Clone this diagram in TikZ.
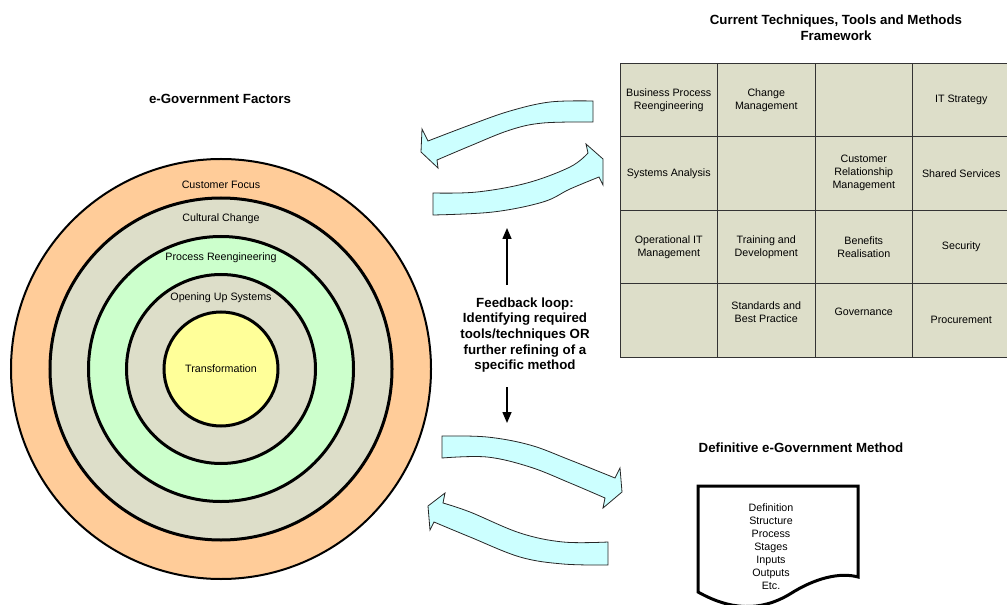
\documentclass[tikz,border=0pt]{standalone}
\usepackage{fontspec}
\setmainfont{Liberation Sans}
\usetikzlibrary{arrows.meta}
\definecolor{orangeF}{HTML}{FFCC99}
\definecolor{beigeF}{HTML}{DDDEC9}
\definecolor{greenF}{HTML}{CCFFCC}
\definecolor{yellowF}{HTML}{FFFF99}
\definecolor{cyanF}{HTML}{CCFFFF}
\tikzset{
  ring/.style={circle, draw=black, inner sep=0pt, line width=3bp},
  bodytxt/.style={font=\fontsize{10.7bp}{13bp}\selectfont, align=center, inner sep=0pt},
  titletxt/.style={font=\fontsize{13.3bp}{16bp}\selectfont\bfseries, align=center, inner sep=0pt},
  fbtxt/.style={font=\fontsize{13.3bp}{15.7bp}\selectfont\bfseries, align=center, inner sep=0pt},
  cell/.style={draw=black!80, fill=beigeF, line width=0.8bp, minimum width=97.5bp,
    minimum height=73.5bp, inner sep=0pt, font=\fontsize{10.7bp}{13bp}\selectfont, align=center},
  blockarrow/.style={fill=cyanF, draw=black!85, line width=0.8bp, line join=miter},
  docshape/.style={fill=white, draw=black, line width=3bp, line join=miter},
  fbarrow/.style={-{Triangle[length=11bp,width=9bp]}, line width=1.5bp}
}
\begin{document}
\begin{tikzpicture}[x=1bp,y=-1bp]
\useasboundingbox (0,0) rectangle (1007,605);

% ---- concentric circles ----
\node[ring, line width=2bp, fill=orangeF, minimum size=420bp] (c1) at (221,369) {};
\node[ring, fill=beigeF, minimum size=342bp] (c2) at (221,369) {};
\node[ring, fill=greenF, minimum size=265bp] (c3) at (221,369) {};
\node[ring, fill=beigeF, minimum size=189bp] (c4) at (221,369) {};
\node[ring, fill=yellowF, minimum size=114bp] (c5) at (221,369) {};
\node[bodytxt] (l1) at (221,184.5) {Customer Focus};
\node[bodytxt] (l2) at (221,218.5) {Cultural Change};
\node[bodytxt] (l3) at (221,257.5) {Process Reengineering};
\node[bodytxt] (l4) at (221,297.5) {Opening Up Systems};
\node[bodytxt] (l5) at (221,368.5) {Transformation};

% ---- titles ----
\node[titletxt] (t1) at (220,98.5) {e-Government Factors};
\node[titletxt] (t2) at (836,27.5) {Current Techniques, Tools and Methods\\Framework};
\node[titletxt] (t3) at (801,447.5) {Definitive e-Government Method};

% ---- grid ----
\node[cell] (g11) at (668.75,99.75) {Business Process\\Reengineering};
\node[cell] (g12) at (766.25,99.75) {Change\\Management};
\node[cell] (g13) at (863.75,99.75) {};
\node[cell] (g14) at (961.25,99.75) {IT Strategy};
\node[cell] (g21) at (668.75,173.25) {Systems Analysis};
\node[cell] (g22) at (766.25,173.25) {};
\node[cell] (g23) at (863.75,173.25) {Customer\\Relationship\\Management};
\node[cell] (g24) at (961.25,173.25) {Shared Services};
\node[cell] (g31) at (668.75,246.75) {Operational IT\\Management};
\node[cell] (g32) at (766.25,246.75) {Training and\\Development};
\node[cell] (g33) at (863.75,246.75) {Benefits\\Realisation};
\node[cell] (g34) at (961.25,246.75) {Security};
\node[cell] (g41) at (668.75,320.25) {};
\node[cell] (g42) at (766.25,320.25) {};
\node[cell] (g43) at (863.75,320.25) {};
\node[cell] (g44) at (961.25,320.25) {};
\node[bodytxt] (g42t) at (766.25,312.5) {Standards and\\Best Practice};
\node[bodytxt] (g43t) at (863.75,312) {Governance};
\node[bodytxt] (g44t) at (961.25,319.5) {Procurement};

% ---- curved block arrows ----
% top, pointing left
\filldraw[blockarrow] plot[smooth, tension=0.6] coordinates {(593,101) (550,102) (510,111) (470,125) (428,141)}
  -- (422,129) -- (421,152) -- (438,168) -- (437,160)
  -- plot[smooth, tension=0.6] coordinates {(437,160) (470,146) (510,130) (543,123) (593,122)} -- cycle;
% top, pointing right
\filldraw[blockarrow] plot[smooth, tension=0.6] coordinates {(433,193) (477,192) (527,183) (570,167) (588,153)}
  -- (586,144) -- (603,159) -- (603,185) -- (599,177)
  -- plot[smooth, tension=0.6] coordinates {(599,177) (570,189) (543,202) (493,212) (433,215)} -- cycle;
% bottom, pointing right
\filldraw[blockarrow] plot[smooth, tension=0.6] coordinates {(442,436) (487,437) (530,445) (570,460) (615,478)}
  -- (620,468) -- (622,492) -- (603,508) -- (605,498)
  -- plot[smooth, tension=0.6] coordinates {(605,498) (570,483) (530,467) (487,457) (442,458)} -- cycle;
% bottom, pointing left
\filldraw[blockarrow] plot[smooth, tension=0.6] coordinates {(608,542) (563,542) (520,533) (470,512) (443,503)}
  -- (445,493) -- (428,506) -- (430,530) -- (434,522)
  -- plot[smooth, tension=0.6] coordinates {(434,522) (470,537) (520,557) (563,564) (608,565)} -- cycle;

% ---- feedback ----
\node[fbtxt] (fb) at (525,335) {Feedback loop:\\Identifying required\\tools/techniques OR\\further refining of a\\specific method};
\coordinate (upS) at (507,285);
\coordinate (upT) at (507,228);
\coordinate (dnS) at (507,387);
\coordinate (dnT) at (507,423);
\draw[fbarrow] (upS) -- (upT);
\draw[fbarrow] (dnS) -- (dnT);

% ---- document shape ----
\filldraw[docshape] (698,486) -- (858,486) -- (858,577)
  .. controls (840,572) and (815,578) .. (790,594)
  .. controls (760,612) and (730,610) .. (698,592) -- cycle;
\node[bodytxt] (doc) at (771,547) {Definition\\Structure\\Process\\Stages\\Inputs\\Outputs\\Etc.};
\end{tikzpicture}
\end{document}
